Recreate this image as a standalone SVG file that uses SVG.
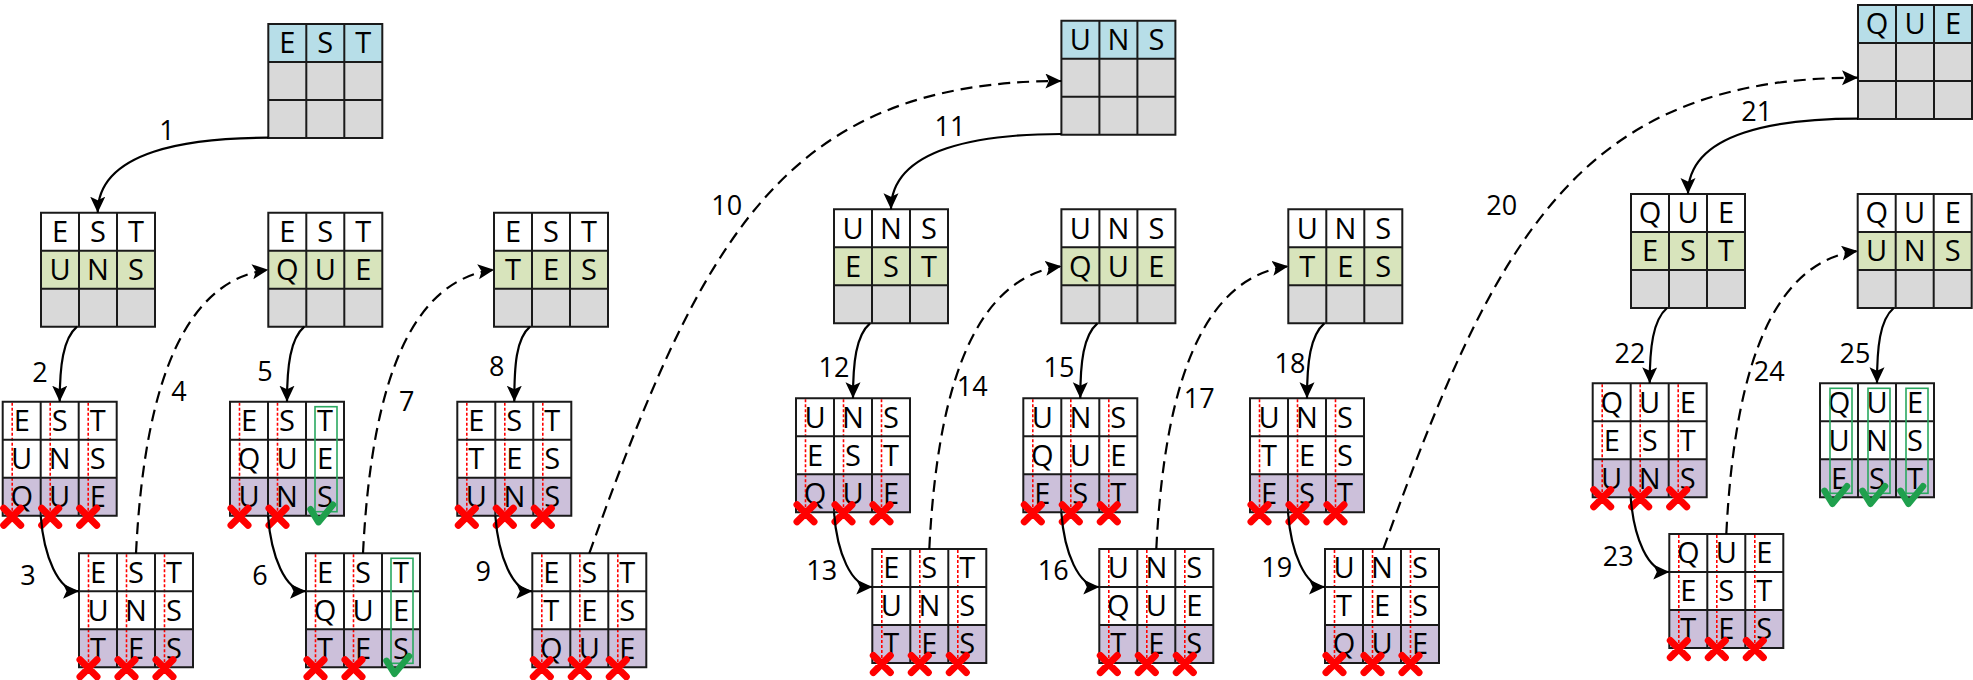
<svg xmlns="http://www.w3.org/2000/svg" width="1973" height="680" viewBox="0 0 1973 680">
<style>
.bl{fill:#b7dee8}.gr{fill:#d8e4bc}.gy{fill:#d9d9d9}.pu{fill:#ccc0da}.wh{fill:#fff}
.grid{fill:none;stroke:#1a1a1a;stroke-width:2}
.t{font-family:"Open Sans",sans-serif;font-size:29px;text-anchor:middle;fill:#000}
.lbl{font-family:"Open Sans",sans-serif;font-size:27px;text-anchor:middle;fill:#000}
.rd{fill:none;stroke:#ff0000;stroke-width:1.6;stroke-dasharray:3 2}
.x{fill:none;stroke:#ff0000;stroke-width:7;stroke-linecap:round}
.ok{fill:none;stroke:#1fa04d;stroke-width:6.5;stroke-linecap:round;stroke-linejoin:round}
.box{fill:none;stroke:#2aa860;stroke-width:1.6}
.sol{fill:none;stroke:#000;stroke-width:2.2;marker-end:url(#ah)}
.das{fill:none;stroke:#000;stroke-width:2.2;stroke-dasharray:12 7;marker-end:url(#ah)}
</style>
<defs>
<marker id="ah" markerUnits="userSpaceOnUse" markerWidth="18" markerHeight="16" refX="16" refY="7.5" orient="auto">
<path d="M0,0L16,7.5L0,15L3.5,7.5Z" fill="#000"/>
</marker>
</defs>
<rect width="1973" height="680" fill="#fff"/>

<!-- Group 1 -->
<g id="g-est-top" transform="translate(268.3,24)">
<rect class="bl" width="114" height="38"/><rect class="gy" y="38" width="114" height="76"/>
<path class="grid" d="M0,0H114V114H0ZM38,0V114M76,0V114M0,38H114M0,76H114"/>
<text class="t" x="19" y="29.4">E</text><text class="t" x="57" y="29.4">S</text><text class="t" x="95" y="29.4">T</text>
</g>
<g id="g-est-uns" transform="translate(41,212.7)">
<rect class="wh" width="114" height="38"/><rect class="gr" y="38" width="114" height="38"/><rect class="gy" y="76" width="114" height="38"/>
<path class="grid" d="M0,0H114V114H0ZM38,0V114M76,0V114M0,38H114M0,76H114"/>
<text class="t" x="19" y="29.4">E</text><text class="t" x="57" y="29.4">S</text><text class="t" x="95" y="29.4">T</text>
<text class="t" x="19" y="67.4">U</text><text class="t" x="57" y="67.4">N</text><text class="t" x="95" y="67.4">S</text>
</g>
<g id="g-est-que" transform="translate(268.3,212.7)">
<rect class="wh" width="114" height="38"/><rect class="gr" y="38" width="114" height="38"/><rect class="gy" y="76" width="114" height="38"/>
<path class="grid" d="M0,0H114V114H0ZM38,0V114M76,0V114M0,38H114M0,76H114"/>
<text class="t" x="19" y="29.4">E</text><text class="t" x="57" y="29.4">S</text><text class="t" x="95" y="29.4">T</text>
<text class="t" x="19" y="67.4">Q</text><text class="t" x="57" y="67.4">U</text><text class="t" x="95" y="67.4">E</text>
</g>
<g id="g-est-tes" transform="translate(494,212.7)">
<rect class="wh" width="114" height="38"/><rect class="gr" y="38" width="114" height="38"/><rect class="gy" y="76" width="114" height="38"/>
<path class="grid" d="M0,0H114V114H0ZM38,0V114M76,0V114M0,38H114M0,76H114"/>
<text class="t" x="19" y="29.4">E</text><text class="t" x="57" y="29.4">S</text><text class="t" x="95" y="29.4">T</text>
<text class="t" x="19" y="67.4">T</text><text class="t" x="57" y="67.4">E</text><text class="t" x="95" y="67.4">S</text>
</g>
<g id="g-est-uns-que" transform="translate(2.7,401.7)">
<rect class="wh" width="114" height="76"/><rect class="pu" y="76" width="114" height="38"/>
<path class="rd" d="M9.5,1V113M47.5,1V113M85.5,1V113"/>
<path class="grid" d="M0,0H114V114H0ZM38,0V114M76,0V114M0,38H114M0,76H114"/>
<text class="t" x="19" y="29.4">E</text><text class="t" x="57" y="29.4">S</text><text class="t" x="95" y="29.4">T</text>
<text class="t" x="19" y="67.4">U</text><text class="t" x="57" y="67.4">N</text><text class="t" x="95" y="67.4">S</text>
<text class="t" x="19" y="105.4">Q</text><text class="t" x="57" y="105.4">U</text><text class="t" x="95" y="105.4">E</text>
<path class="x" d="M1,106.5L18,123.5M18,106.5L1,123.5M39,106.5L56,123.5M56,106.5L39,123.5M77,106.5L94,123.5M94,106.5L77,123.5"/>
</g>
<g id="g-est-uns-tes" transform="translate(79,553.3)">
<rect class="wh" width="114" height="76"/><rect class="pu" y="76" width="114" height="38"/>
<path class="rd" d="M9.5,1V113M47.5,1V113M85.5,1V113"/>
<path class="grid" d="M0,0H114V114H0ZM38,0V114M76,0V114M0,38H114M0,76H114"/>
<text class="t" x="19" y="29.4">E</text><text class="t" x="57" y="29.4">S</text><text class="t" x="95" y="29.4">T</text>
<text class="t" x="19" y="67.4">U</text><text class="t" x="57" y="67.4">N</text><text class="t" x="95" y="67.4">S</text>
<text class="t" x="19" y="105.4">T</text><text class="t" x="57" y="105.4">E</text><text class="t" x="95" y="105.4">S</text>
<path class="x" d="M1,106.5L18,123.5M18,106.5L1,123.5M39,106.5L56,123.5M56,106.5L39,123.5M77,106.5L94,123.5M94,106.5L77,123.5"/>
</g>
<g id="g-est-que-uns" transform="translate(230,401.7)">
<rect class="wh" width="114" height="76"/><rect class="pu" y="76" width="114" height="38"/>
<path class="rd" d="M9.5,1V113M47.5,1V113"/>
<path class="grid" d="M0,0H114V114H0ZM38,0V114M76,0V114M0,38H114M0,76H114"/>
<text class="t" x="19" y="29.4">E</text><text class="t" x="57" y="29.4">S</text><text class="t" x="95" y="29.4">T</text>
<text class="t" x="19" y="67.4">Q</text><text class="t" x="57" y="67.4">U</text><text class="t" x="95" y="67.4">E</text>
<text class="t" x="19" y="105.4">U</text><text class="t" x="57" y="105.4">N</text><text class="t" x="95" y="105.4">S</text>
<rect class="box" x="85" y="5" width="22" height="105"/>
<path class="x" d="M1,106.5L18,123.5M18,106.5L1,123.5M39,106.5L56,123.5M56,106.5L39,123.5"/>
<path class="ok" d="M80.5,107.5L88.5,120.5L103,103"/>
</g>
<g id="g-est-que-tes" transform="translate(306,553.3)">
<rect class="wh" width="114" height="76"/><rect class="pu" y="76" width="114" height="38"/>
<path class="rd" d="M9.5,1V113M47.5,1V113"/>
<path class="grid" d="M0,0H114V114H0ZM38,0V114M76,0V114M0,38H114M0,76H114"/>
<text class="t" x="19" y="29.4">E</text><text class="t" x="57" y="29.4">S</text><text class="t" x="95" y="29.4">T</text>
<text class="t" x="19" y="67.4">Q</text><text class="t" x="57" y="67.4">U</text><text class="t" x="95" y="67.4">E</text>
<text class="t" x="19" y="105.4">T</text><text class="t" x="57" y="105.4">E</text><text class="t" x="95" y="105.4">S</text>
<rect class="box" x="85" y="5" width="22" height="105"/>
<path class="x" d="M1,106.5L18,123.5M18,106.5L1,123.5M39,106.5L56,123.5M56,106.5L39,123.5"/>
<path class="ok" d="M80.5,107.5L88.5,120.5L103,103"/>
</g>
<g id="g-est-tes-uns" transform="translate(457.3,401.7)">
<rect class="wh" width="114" height="76"/><rect class="pu" y="76" width="114" height="38"/>
<path class="rd" d="M9.5,1V113M47.5,1V113M85.5,1V113"/>
<path class="grid" d="M0,0H114V114H0ZM38,0V114M76,0V114M0,38H114M0,76H114"/>
<text class="t" x="19" y="29.4">E</text><text class="t" x="57" y="29.4">S</text><text class="t" x="95" y="29.4">T</text>
<text class="t" x="19" y="67.4">T</text><text class="t" x="57" y="67.4">E</text><text class="t" x="95" y="67.4">S</text>
<text class="t" x="19" y="105.4">U</text><text class="t" x="57" y="105.4">N</text><text class="t" x="95" y="105.4">S</text>
<path class="x" d="M1,106.5L18,123.5M18,106.5L1,123.5M39,106.5L56,123.5M56,106.5L39,123.5M77,106.5L94,123.5M94,106.5L77,123.5"/>
</g>
<g id="g-est-tes-que" transform="translate(532.3,553.3)">
<rect class="wh" width="114" height="76"/><rect class="pu" y="76" width="114" height="38"/>
<path class="rd" d="M9.5,1V113M47.5,1V113M85.5,1V113"/>
<path class="grid" d="M0,0H114V114H0ZM38,0V114M76,0V114M0,38H114M0,76H114"/>
<text class="t" x="19" y="29.4">E</text><text class="t" x="57" y="29.4">S</text><text class="t" x="95" y="29.4">T</text>
<text class="t" x="19" y="67.4">T</text><text class="t" x="57" y="67.4">E</text><text class="t" x="95" y="67.4">S</text>
<text class="t" x="19" y="105.4">Q</text><text class="t" x="57" y="105.4">U</text><text class="t" x="95" y="105.4">E</text>
<path class="x" d="M1,106.5L18,123.5M18,106.5L1,123.5M39,106.5L56,123.5M56,106.5L39,123.5M77,106.5L94,123.5M94,106.5L77,123.5"/>
</g>

<!-- Group 2 -->
<g id="g-uns-top" transform="translate(1061.4,20.7)">
<rect class="bl" width="114" height="38"/><rect class="gy" y="38" width="114" height="76"/>
<path class="grid" d="M0,0H114V114H0ZM38,0V114M76,0V114M0,38H114M0,76H114"/>
<text class="t" x="19" y="29.4">U</text><text class="t" x="57" y="29.4">N</text><text class="t" x="95" y="29.4">S</text>
</g>
<g id="g-uns-est" transform="translate(834,209.3)">
<rect class="wh" width="114" height="38"/><rect class="gr" y="38" width="114" height="38"/><rect class="gy" y="76" width="114" height="38"/>
<path class="grid" d="M0,0H114V114H0ZM38,0V114M76,0V114M0,38H114M0,76H114"/>
<text class="t" x="19" y="29.4">U</text><text class="t" x="57" y="29.4">N</text><text class="t" x="95" y="29.4">S</text>
<text class="t" x="19" y="67.4">E</text><text class="t" x="57" y="67.4">S</text><text class="t" x="95" y="67.4">T</text>
</g>
<g id="g-uns-que" transform="translate(1061.4,209.3)">
<rect class="wh" width="114" height="38"/><rect class="gr" y="38" width="114" height="38"/><rect class="gy" y="76" width="114" height="38"/>
<path class="grid" d="M0,0H114V114H0ZM38,0V114M76,0V114M0,38H114M0,76H114"/>
<text class="t" x="19" y="29.4">U</text><text class="t" x="57" y="29.4">N</text><text class="t" x="95" y="29.4">S</text>
<text class="t" x="19" y="67.4">Q</text><text class="t" x="57" y="67.4">U</text><text class="t" x="95" y="67.4">E</text>
</g>
<g id="g-uns-tes" transform="translate(1288.3,209.3)">
<rect class="wh" width="114" height="38"/><rect class="gr" y="38" width="114" height="38"/><rect class="gy" y="76" width="114" height="38"/>
<path class="grid" d="M0,0H114V114H0ZM38,0V114M76,0V114M0,38H114M0,76H114"/>
<text class="t" x="19" y="29.4">U</text><text class="t" x="57" y="29.4">N</text><text class="t" x="95" y="29.4">S</text>
<text class="t" x="19" y="67.4">T</text><text class="t" x="57" y="67.4">E</text><text class="t" x="95" y="67.4">S</text>
</g>
<g id="g-uns-est-que" transform="translate(796,398.3)">
<rect class="wh" width="114" height="76"/><rect class="pu" y="76" width="114" height="38"/>
<path class="rd" d="M9.5,1V113M47.5,1V113M85.5,1V113"/>
<path class="grid" d="M0,0H114V114H0ZM38,0V114M76,0V114M0,38H114M0,76H114"/>
<text class="t" x="19" y="29.4">U</text><text class="t" x="57" y="29.4">N</text><text class="t" x="95" y="29.4">S</text>
<text class="t" x="19" y="67.4">E</text><text class="t" x="57" y="67.4">S</text><text class="t" x="95" y="67.4">T</text>
<text class="t" x="19" y="105.4">Q</text><text class="t" x="57" y="105.4">U</text><text class="t" x="95" y="105.4">E</text>
<path class="x" d="M1,106.5L18,123.5M18,106.5L1,123.5M39,106.5L56,123.5M56,106.5L39,123.5M77,106.5L94,123.5M94,106.5L77,123.5"/>
</g>
<g id="g-est-uns-tes-2" transform="translate(872.3,549)">
<rect class="wh" width="114" height="76"/><rect class="pu" y="76" width="114" height="38"/>
<path class="rd" d="M9.5,1V113M47.5,1V113M85.5,1V113"/>
<path class="grid" d="M0,0H114V114H0ZM38,0V114M76,0V114M0,38H114M0,76H114"/>
<text class="t" x="19" y="29.4">E</text><text class="t" x="57" y="29.4">S</text><text class="t" x="95" y="29.4">T</text>
<text class="t" x="19" y="67.4">U</text><text class="t" x="57" y="67.4">N</text><text class="t" x="95" y="67.4">S</text>
<text class="t" x="19" y="105.4">T</text><text class="t" x="57" y="105.4">E</text><text class="t" x="95" y="105.4">S</text>
<path class="x" d="M1,106.5L18,123.5M18,106.5L1,123.5M39,106.5L56,123.5M56,106.5L39,123.5M77,106.5L94,123.5M94,106.5L77,123.5"/>
</g>
<g id="g-uns-que-est" transform="translate(1023.3,398.3)">
<rect class="wh" width="114" height="76"/><rect class="pu" y="76" width="114" height="38"/>
<path class="rd" d="M9.5,1V113M47.5,1V113M85.5,1V113"/>
<path class="grid" d="M0,0H114V114H0ZM38,0V114M76,0V114M0,38H114M0,76H114"/>
<text class="t" x="19" y="29.4">U</text><text class="t" x="57" y="29.4">N</text><text class="t" x="95" y="29.4">S</text>
<text class="t" x="19" y="67.4">Q</text><text class="t" x="57" y="67.4">U</text><text class="t" x="95" y="67.4">E</text>
<text class="t" x="19" y="105.4">E</text><text class="t" x="57" y="105.4">S</text><text class="t" x="95" y="105.4">T</text>
<path class="x" d="M1,106.5L18,123.5M18,106.5L1,123.5M39,106.5L56,123.5M56,106.5L39,123.5M77,106.5L94,123.5M94,106.5L77,123.5"/>
</g>
<g id="g-uns-que-tes" transform="translate(1099.3,549)">
<rect class="wh" width="114" height="76"/><rect class="pu" y="76" width="114" height="38"/>
<path class="rd" d="M9.5,1V113M47.5,1V113M85.5,1V113"/>
<path class="grid" d="M0,0H114V114H0ZM38,0V114M76,0V114M0,38H114M0,76H114"/>
<text class="t" x="19" y="29.4">U</text><text class="t" x="57" y="29.4">N</text><text class="t" x="95" y="29.4">S</text>
<text class="t" x="19" y="67.4">Q</text><text class="t" x="57" y="67.4">U</text><text class="t" x="95" y="67.4">E</text>
<text class="t" x="19" y="105.4">T</text><text class="t" x="57" y="105.4">E</text><text class="t" x="95" y="105.4">S</text>
<path class="x" d="M1,106.5L18,123.5M18,106.5L1,123.5M39,106.5L56,123.5M56,106.5L39,123.5M77,106.5L94,123.5M94,106.5L77,123.5"/>
</g>
<g id="g-uns-tes-est" transform="translate(1250,398.3)">
<rect class="wh" width="114" height="76"/><rect class="pu" y="76" width="114" height="38"/>
<path class="rd" d="M9.5,1V113M47.5,1V113M85.5,1V113"/>
<path class="grid" d="M0,0H114V114H0ZM38,0V114M76,0V114M0,38H114M0,76H114"/>
<text class="t" x="19" y="29.4">U</text><text class="t" x="57" y="29.4">N</text><text class="t" x="95" y="29.4">S</text>
<text class="t" x="19" y="67.4">T</text><text class="t" x="57" y="67.4">E</text><text class="t" x="95" y="67.4">S</text>
<text class="t" x="19" y="105.4">E</text><text class="t" x="57" y="105.4">S</text><text class="t" x="95" y="105.4">T</text>
<path class="x" d="M1,106.5L18,123.5M18,106.5L1,123.5M39,106.5L56,123.5M56,106.5L39,123.5M77,106.5L94,123.5M94,106.5L77,123.5"/>
</g>
<g id="g-uns-tes-que" transform="translate(1325,549)">
<rect class="wh" width="114" height="76"/><rect class="pu" y="76" width="114" height="38"/>
<path class="rd" d="M9.5,1V113M47.5,1V113M85.5,1V113"/>
<path class="grid" d="M0,0H114V114H0ZM38,0V114M76,0V114M0,38H114M0,76H114"/>
<text class="t" x="19" y="29.4">U</text><text class="t" x="57" y="29.4">N</text><text class="t" x="95" y="29.4">S</text>
<text class="t" x="19" y="67.4">T</text><text class="t" x="57" y="67.4">E</text><text class="t" x="95" y="67.4">S</text>
<text class="t" x="19" y="105.4">Q</text><text class="t" x="57" y="105.4">U</text><text class="t" x="95" y="105.4">E</text>
<path class="x" d="M1,106.5L18,123.5M18,106.5L1,123.5M39,106.5L56,123.5M56,106.5L39,123.5M77,106.5L94,123.5M94,106.5L77,123.5"/>
</g>

<!-- Group 3 -->
<g id="g-que-top" transform="translate(1858,5)">
<rect class="bl" width="114" height="38"/><rect class="gy" y="38" width="114" height="76"/>
<path class="grid" d="M0,0H114V114H0ZM38,0V114M76,0V114M0,38H114M0,76H114"/>
<text class="t" x="19" y="29.4">Q</text><text class="t" x="57" y="29.4">U</text><text class="t" x="95" y="29.4">E</text>
</g>
<g id="g-que-est" transform="translate(1631,194)">
<rect class="wh" width="114" height="38"/><rect class="gr" y="38" width="114" height="38"/><rect class="gy" y="76" width="114" height="38"/>
<path class="grid" d="M0,0H114V114H0ZM38,0V114M76,0V114M0,38H114M0,76H114"/>
<text class="t" x="19" y="29.4">Q</text><text class="t" x="57" y="29.4">U</text><text class="t" x="95" y="29.4">E</text>
<text class="t" x="19" y="67.4">E</text><text class="t" x="57" y="67.4">S</text><text class="t" x="95" y="67.4">T</text>
</g>
<g id="g-que-uns" transform="translate(1857.7,194)">
<rect class="wh" width="114" height="38"/><rect class="gr" y="38" width="114" height="38"/><rect class="gy" y="76" width="114" height="38"/>
<path class="grid" d="M0,0H114V114H0ZM38,0V114M76,0V114M0,38H114M0,76H114"/>
<text class="t" x="19" y="29.4">Q</text><text class="t" x="57" y="29.4">U</text><text class="t" x="95" y="29.4">E</text>
<text class="t" x="19" y="67.4">U</text><text class="t" x="57" y="67.4">N</text><text class="t" x="95" y="67.4">S</text>
</g>
<g id="g-que-est-uns" transform="translate(1592.7,383.3)">
<rect class="wh" width="114" height="76"/><rect class="pu" y="76" width="114" height="38"/>
<path class="rd" d="M9.5,1V113M47.5,1V113M85.5,1V113"/>
<path class="grid" d="M0,0H114V114H0ZM38,0V114M76,0V114M0,38H114M0,76H114"/>
<text class="t" x="19" y="29.4">Q</text><text class="t" x="57" y="29.4">U</text><text class="t" x="95" y="29.4">E</text>
<text class="t" x="19" y="67.4">E</text><text class="t" x="57" y="67.4">S</text><text class="t" x="95" y="67.4">T</text>
<text class="t" x="19" y="105.4">U</text><text class="t" x="57" y="105.4">N</text><text class="t" x="95" y="105.4">S</text>
<path class="x" d="M1,106.5L18,123.5M18,106.5L1,123.5M39,106.5L56,123.5M56,106.5L39,123.5M77,106.5L94,123.5M94,106.5L77,123.5"/>
</g>
<g id="g-que-est-tes" transform="translate(1669.3,534)">
<rect class="wh" width="114" height="76"/><rect class="pu" y="76" width="114" height="38"/>
<path class="rd" d="M9.5,1V113M47.5,1V113M85.5,1V113"/>
<path class="grid" d="M0,0H114V114H0ZM38,0V114M76,0V114M0,38H114M0,76H114"/>
<text class="t" x="19" y="29.4">Q</text><text class="t" x="57" y="29.4">U</text><text class="t" x="95" y="29.4">E</text>
<text class="t" x="19" y="67.4">E</text><text class="t" x="57" y="67.4">S</text><text class="t" x="95" y="67.4">T</text>
<text class="t" x="19" y="105.4">T</text><text class="t" x="57" y="105.4">E</text><text class="t" x="95" y="105.4">S</text>
<path class="x" d="M1,106.5L18,123.5M18,106.5L1,123.5M39,106.5L56,123.5M56,106.5L39,123.5M77,106.5L94,123.5M94,106.5L77,123.5"/>
</g>
<g id="g-que-uns-est" transform="translate(1820,383.3)">
<rect class="wh" width="114" height="76"/><rect class="pu" y="76" width="114" height="38"/>
<path class="grid" d="M0,0H114V114H0ZM38,0V114M76,0V114M0,38H114M0,76H114"/>
<text class="t" x="19" y="29.4">Q</text><text class="t" x="57" y="29.4">U</text><text class="t" x="95" y="29.4">E</text>
<text class="t" x="19" y="67.4">U</text><text class="t" x="57" y="67.4">N</text><text class="t" x="95" y="67.4">S</text>
<text class="t" x="19" y="105.4">E</text><text class="t" x="57" y="105.4">S</text><text class="t" x="95" y="105.4">T</text>
<rect class="box" x="10" y="5" width="22" height="105"/><rect class="box" x="48" y="5" width="22" height="105"/><rect class="box" x="86" y="5" width="22" height="105"/>
<path class="ok" d="M4.5,107.5L12.5,120.5L27,103M42.5,107.5L50.5,120.5L65,103M80.5,107.5L88.5,120.5L103,103"/>
</g>

<g id="connectors">
<path class="sol" d="M268.3,137.7C190,137.7 97.7,150 97.7,212.7"/>
<path class="sol" d="M1061.4,134C983,134 891,147 891,209.3"/>
<path class="sol" d="M1858,118.7C1780,118.7 1688,131 1688,194"/>
<path class="sol" d="M77,326.7C63,338.7 59.7,365.7 59.7,401.7"/>
<path class="sol" d="M304.3,326.7C290.3,338.7 287,365.7 287,401.7"/>
<path class="sol" d="M530,326.7C516,338.7 514.3,365.7 514.3,401.7"/>
<path class="sol" d="M870,323.3C856,335.3 853,362.3 853,398.3"/>
<path class="sol" d="M1097.4,323.3C1083.4,335.3 1080.3,362.3 1080.3,398.3"/>
<path class="sol" d="M1324.3,323.3C1310.3,335.3 1307,362.3 1307,398.3"/>
<path class="sol" d="M1667,308C1653,320 1649.7,347.3 1649.7,383.3"/>
<path class="sol" d="M1893.7,308C1879.7,320 1877,347.3 1877,383.3"/>
<path class="sol" d="M40.7,515.7C43.7,555.7 58,591.3 79,591.3"/>
<path class="sol" d="M268,515.7C271,555.7 285,591.3 306,591.3"/>
<path class="sol" d="M495.3,515.7C498.3,555.7 512.3,591.3 532.3,591.3"/>
<path class="sol" d="M834,512.3C837,552.3 851,587 872.3,587"/>
<path class="sol" d="M1061.3,512.3C1064.3,552.3 1078.3,587 1099.3,587"/>
<path class="sol" d="M1288,512.3C1291,552.3 1305,587 1325,587"/>
<path class="sol" d="M1630.7,497.3C1633.7,537.3 1647.7,572 1669.3,572"/>
<path class="das" d="M136,553.3C145,370.3 190.3,279.7 268.3,269.7"/>
<path class="das" d="M363,553.3C372,370.3 416,279.7 494,269.7"/>
<path class="das" d="M929.3,549C938.3,366 983.4,276.3 1061.4,266.3"/>
<path class="das" d="M1156.3,549C1165.3,366 1210.3,276.3 1288.3,266.3"/>
<path class="das" d="M1726.3,534C1735.3,351 1779.7,261 1857.7,251"/>
<path class="das" d="M589.3,553.3C701.2,242.8 781.4,81 1061.4,81"/>
<path class="das" d="M1383.3,549C1495.2,238.5 1578,77.7 1858,77.7"/>
</g>

<g id="labels">
<text class="lbl" x="167" y="139.6">1</text>
<text class="lbl" x="40" y="381.6">2</text>
<text class="lbl" x="28" y="584.6">3</text>
<text class="lbl" x="179" y="401.3">4</text>
<text class="lbl" x="265" y="381.3">5</text>
<text class="lbl" x="260" y="584.6">6</text>
<text class="lbl" x="406.7" y="411.3">7</text>
<text class="lbl" x="496.7" y="376.3">8</text>
<text class="lbl" x="483.3" y="581.3">9</text>
<text class="lbl" x="726.8" y="214.6">10</text>
<text class="lbl" x="950" y="136.3">11</text>
<text class="lbl" x="834" y="376.9">12</text>
<text class="lbl" x="821.7" y="580.3">13</text>
<text class="lbl" x="972.3" y="396.3">14</text>
<text class="lbl" x="1059" y="376.9">15</text>
<text class="lbl" x="1053.3" y="580.3">16</text>
<text class="lbl" x="1199.3" y="407.9">17</text>
<text class="lbl" x="1290" y="372.9">18</text>
<text class="lbl" x="1276.7" y="576.9">19</text>
<text class="lbl" x="1501.7" y="214.6">20</text>
<text class="lbl" x="1756.7" y="121.3">21</text>
<text class="lbl" x="1630" y="362.9">22</text>
<text class="lbl" x="1618.3" y="566.3">23</text>
<text class="lbl" x="1769.3" y="381.3">24</text>
<text class="lbl" x="1855" y="362.9">25</text>
</g>
</svg>
